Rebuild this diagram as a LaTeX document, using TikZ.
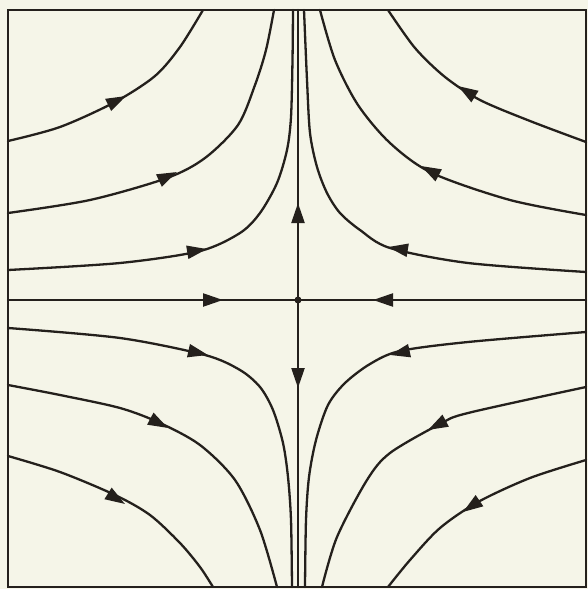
\documentclass[tikz,border=0pt]{standalone}
\usetikzlibrary{arrows.meta}
\definecolor{paper}{RGB}{245,245,232}
\definecolor{ink}{RGB}{36,32,28}
\begin{document}
\begin{tikzpicture}[x=1pt,y=-1pt,
  traj/.style={draw=ink,line width=2.3pt,line cap=round,line join=round},
  tipseg/.style={draw=ink,line width=2.3pt,-{Triangle[length=20pt,width=13pt]}},
  frame/.style={draw=ink,line width=2.5pt}]
\fill[paper] (0,0) rectangle (588,589);
\useasboundingbox (0,0) rectangle (588,589);
\draw[frame] (8,10) rectangle (586,587);
% axes
\draw[traj] (8,300) -- (586,300);
\draw[traj] (298,10) -- (298,587);
\node[circle,fill=ink,inner sep=0pt,minimum size=7pt] (saddle) at (298,300) {};
% top-left
\draw[traj] plot[smooth] coordinates {(8,141) (60,127) (115,102) (155,76) (180,47) (203,10)};
\draw[traj] plot[smooth] coordinates {(8,213) (90,200) (167,178) (205,158) (238,125) (255,85) (266,50) (274,10)};
\draw[traj] plot[smooth] coordinates {(8,270) (120,263) (200,251) (240,233) (260,213) (277,183) (287,150) (291,117) (292.5,60) (293,10)};
% top-right
\draw[traj] plot[smooth] coordinates {(586,142) (530,121) (480,100) (445,77) (415,48) (388,10)};
\draw[traj] plot[smooth] coordinates {(586,215) (510,200) (432,173) (390,143) (358,105) (335,60) (320,10)};
\draw[traj] plot[smooth] coordinates {(586,272) (468,263) (390,248) (360,230) (340,213) (327,193) (317,167) (310,133) (307,80) (304,10)};
% bottom-left
\draw[traj] plot[smooth] coordinates {(8,328) (120,338) (205,355) (240,370) (260,387) (273,410) (283,443) (288,477) (291,520) (292,587)};
\draw[traj] plot[smooth] coordinates {(8,385) (60,395) (120,408) (160,423) (200,445) (235,480) (260,530) (277,587)};
\draw[traj] plot[smooth] coordinates {(8,456) (60,472) (115,495) (150,515) (180,543) (200,567) (213,587)};
% bottom-right
\draw[traj] plot[smooth] coordinates {(586,332) (468,342) (400,351) (370,364) (345,383) (328,405) (316,440) (309,477) (306,520) (305,587)};
\draw[traj] plot[smooth] coordinates {(586,387) (468,413) (440,424) (390,453) (367,480) (337,537) (322,587)};
\draw[traj] plot[smooth] coordinates {(586,460) (530,478) (478,502) (440,528) (410,560) (388,587)};
% arrowheads
\draw[tipseg] (110,104) -- (126,96);
\draw[tipseg] (160,180) -- (177,172);
\draw[tipseg] (189,252) -- (207,249);
\draw[tipseg] (474,96) -- (458,86);
\draw[tipseg] (438,175) -- (421,166);
\draw[tipseg] (406,250) -- (388,247);
\draw[tipseg] (190,351) -- (208,355);
\draw[tipseg] (151,419) -- (168,428);
\draw[tipseg] (109,494) -- (125,504);
\draw[tipseg] (408,351) -- (390,355);
\draw[tipseg] (445,421) -- (428,430);
\draw[tipseg] (479,501) -- (463,512);
\draw[tipseg] (200,300) -- (223,300);
\draw[tipseg] (396,300) -- (373,300);
\draw[tipseg] (298,223) -- (298,203);
\draw[tipseg] (298,370) -- (298,388);
\end{tikzpicture}
\end{document}
